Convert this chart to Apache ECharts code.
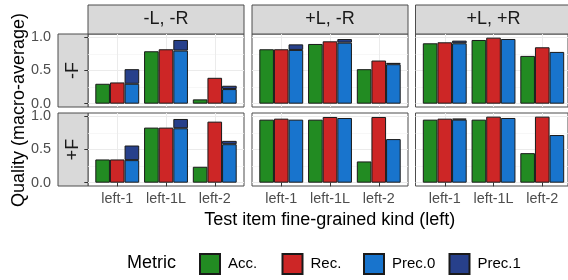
<!DOCTYPE html>
<html>
<head>
<meta charset="utf-8">
<script src="https://cdn.jsdelivr.net/npm/echarts@6/dist/echarts.min.js"></script>
<style>
  html, body { margin: 0; padding: 0; background: #fff; }
  #chart { width: 568px; height: 280px; }
</style>
</head>
<body>
<div id="chart"></div>
<script>
var kinds = ['left-1', 'left-1L', 'left-2'];
var colStrips = ['-L, -R', '+L, -R', '+L, +R'];
var rowStrips = ['-F', '+F'];
var metrics = ['Acc.', 'Rec.', 'Prec.0', 'Prec.1'];
var colors = ['#228b22', '#cd2626', '#1874cd', '#27408b'];

// one entry per panel, row by row (-F first, then +F)
var acc = [
  [0.30, 0.79, 0.065], [0.82, 0.90, 0.52], [0.91, 0.96, 0.72],
  [0.35, 0.83, 0.24], [0.95, 0.95, 0.32], [0.95, 0.95, 0.445]
];
var rec = [
  [0.32, 0.82, 0.39], [0.82, 0.94, 0.65], [0.925, 0.995, 0.85],
  [0.35, 0.83, 0.92], [0.965, 0.99, 0.99], [0.965, 0.995, 0.995]
];
var prec0 = [
  [0.30, 0.80, 0.22], [0.81, 0.92, 0.595], [0.91, 0.975, 0.78],
  [0.34, 0.82, 0.58], [0.95, 0.975, 0.657], [0.95, 0.975, 0.718]
];
var prec1 = [
  [0.52, 0.96, 0.27], [0.894, 0.974, 0.615], [0.95, 0.975, 0.78],
  [0.56, 0.96, 0.63], [0.95, 0.975, 0.657], [0.965, 0.975, 0.718]
];

var FONT = '"Liberation Sans", Arial, sans-serif';
var colLeft = [88, 252, 415.5];
var rowTop = [34, 113];
var panelW = 156, panelH = 73;
var unit = panelH / 1.1;
var legendLeft = [199, 281.5, 363, 448.5];

var grids = [], xAxes = [], yAxes = [], series = [], graphics = [];

function addGrid(g, x, y) {
    grids.push(g);
    var i = grids.length - 1;
    x.gridIndex = i;
    y.gridIndex = i;
    xAxes.push(x);
    yAxes.push(y);
    return i;
}

for (var r = 0; r < 2; r++) {
    for (var c = 0; c < 3; c++) {
        var p = r * 3 + c;
        var L = colLeft[c], T = rowTop[r];

        // panel border
        addGrid({ left: L, top: T, width: panelW, height: panelH, show: true,
                  borderColor: '#4d4d4d', borderWidth: 1, backgroundColor: 'transparent' },
                { type: 'value', show: false }, { type: 'value', show: false });

        // horizontal grid lines + y axis
        addGrid({ left: L, top: T + 0.05 * unit, width: panelW, height: unit },
                { type: 'value', show: false, min: 0, max: 1 },
                { type: 'value', min: 0, max: 1, interval: 0.5,
                  offset: c === 0 ? L - 58 : 0,
                  axisLine: { show: false },
                  axisTick: { show: c === 0, length: 3.7, lineStyle: { color: '#333' } },
                  axisLabel: { show: c === 0, margin: 7, color: '#4d4d4d', fontSize: 14.4,
                               fontFamily: FONT, formatter: function (v) { return v.toFixed(1); } },
                  splitLine: { lineStyle: { color: '#ebebeb', width: 1 } },
                  minorTick: { show: false, splitNumber: 2 },
                  minorSplitLine: { show: true, lineStyle: { color: '#f3f3f3', width: 0.7 } } });

        // bars
        var gi = addGrid({ left: L + panelW * 0.1 / 3.2, top: T, width: panelW * 3 / 3.2, height: panelH },
                { type: 'category', data: kinds,
                  axisLine: { show: false },
                  axisTick: { show: r === 1, alignWithLabel: true, length: 3.7, lineStyle: { color: '#333' } },
                  axisLabel: { show: r === 1, interval: 0, margin: 6, color: '#4d4d4d', fontSize: 14.4, fontFamily: FONT },
                  splitLine: { show: true, interval: 0, alignWithLabel: true, lineStyle: { color: '#ebebeb', width: 1 } } },
                { type: 'value', show: false, min: -0.05, max: 1.05 });

        var top1 = prec1[p].map(function (v, k) {
            var d = v - prec0[p][k];
            return d > 0.001 ? d : '-';
        });
        var sets = [acc[p], rec[p], prec0[p], top1];
        for (var m = 0; m < 4; m++) {
            series.push({
                type: 'bar', name: metrics[m], xAxisIndex: gi, yAxisIndex: gi,
                data: sets[m], barGap: 0, barCategoryGap: '10%',
                stack: m >= 2 ? 'prec' + p : null,
                itemStyle: { color: colors[m], borderColor: '#1a1a1a', borderWidth: 1 },
                emphasis: { disabled: true }
            });
        }
    }
}

// facet strips
for (var c = 0; c < 3; c++) {
    graphics.push({ type: 'rect', shape: { x: colLeft[c], y: 5, width: panelW, height: rowTop[0] - 5 },
                    style: { fill: '#d9d9d9', stroke: '#4d4d4d', lineWidth: 1 } });
    graphics.push({ type: 'text', x: colLeft[c] + panelW / 2, y: (5 + rowTop[0]) / 2,
                    style: { text: colStrips[c], font: '18px ' + FONT, fill: '#1a1a1a',
                             textAlign: 'center', textVerticalAlign: 'middle' } });
}
for (var r = 0; r < 2; r++) {
    graphics.push({ type: 'rect', shape: { x: 58, y: rowTop[r], width: 30, height: panelH },
                    style: { fill: '#d9d9d9', stroke: '#4d4d4d', lineWidth: 1 } });
    graphics.push({ type: 'text', x: 73, y: rowTop[r] + panelH / 2, rotation: Math.PI / 2,
                    style: { text: rowStrips[r], font: '18px ' + FONT, fill: '#1a1a1a',
                             textAlign: 'center', textVerticalAlign: 'middle' } });
}

// axis titles and legend title
graphics.push({ type: 'text', x: 19, y: 110, rotation: Math.PI / 2,
                style: { text: 'Quality (macro-average)', font: '18px ' + FONT, fill: '#000',
                         textAlign: 'center', textVerticalAlign: 'middle' } });
graphics.push({ type: 'text', x: 329.75, y: 220,
                style: { text: 'Test item fine-grained kind (left)', font: '18px ' + FONT, fill: '#000',
                         textAlign: 'center', textVerticalAlign: 'middle' } });
graphics.push({ type: 'text', x: 127, y: 263,
                style: { text: 'Metric', font: '18px ' + FONT, fill: '#000',
                         textAlign: 'left', textVerticalAlign: 'middle' } });

// one legend box per key so the spacing follows the reference
var legends = metrics.map(function (name, k) {
    return {
        data: [name], left: legendLeft[k], top: 253, padding: 0, icon: 'rect',
        itemWidth: 20, itemHeight: 20, selectedMode: false,
        textStyle: { fontSize: 15, color: '#000', fontFamily: FONT, padding: [0, 0, 0, 3] }
    };
});

var chart = echarts.init(document.getElementById('chart'));
chart.setOption({
    animation: false,
    grid: grids,
    xAxis: xAxes,
    yAxis: yAxes,
    series: series,
    legend: legends,
    graphic: graphics
});
</script>
</body>
</html>
